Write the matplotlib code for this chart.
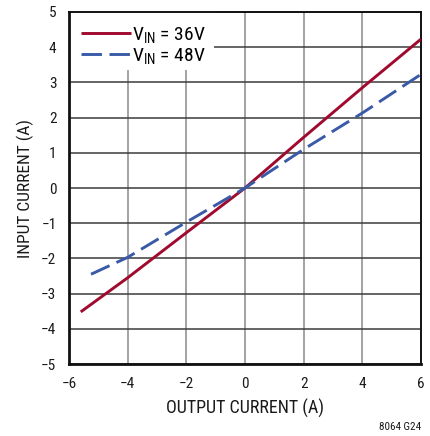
import matplotlib
matplotlib.use("Agg")
import matplotlib.pyplot as plt
from matplotlib.patches import Rectangle

# Input vs. output current at two input voltages
out_36 = [-5.6, -4, -2, 0, 2, 4, 6]
in_36 = [-3.52, -2.55, -1.27, 0, 1.44, 2.85, 4.23]
out_48 = [-5.25, -4, -2, 0, 2, 4, 6]
in_48 = [-2.45, -1.97, -0.97, 0, 1.10, 2.13, 3.23]

x_ticks = [-6, -4, -2, 0, 2, 4, 6]
y_ticks = [-5, -4, -3, -2, -1, 0, 1, 2, 3, 4, 5]

font = "Roboto Condensed"
plt.rcParams["font.family"] = [font, "DejaVu Sans"]
plt.rcParams["mathtext.fontset"] = "custom"
plt.rcParams["mathtext.rm"] = font
plt.rcParams["mathtext.it"] = font

fig = plt.figure(figsize=(4.31, 4.36), dpi=100)
ax = fig.add_axes([69 / 431, 1 - 364 / 436, 352 / 431, 352 / 436])

ax.set_xlim(-6, 6)
ax.set_ylim(-5, 5)
ax.set_xticks(x_ticks)
ax.set_yticks(y_ticks)
ax.set_xticklabels([f"{t}" if t >= 0 else f"\u2212{-t}" for t in x_ticks])
ax.set_yticklabels([f"{t}" if t >= 0 else f"\u2212{-t}" for t in y_ticks])
ax.tick_params(length=0, labelsize=11, pad=9, colors="#1a1a1a")

ax.set_axisbelow(True)
ax.xaxis.grid(True, color="#8a8a8a", linewidth=1.1)
ax.yaxis.grid(True, color="#3c3c3c", linewidth=1.1)
for side in ["left", "bottom"]:
    ax.spines[side].set_linewidth(2.0)
for side in ["top", "right"]:
    ax.spines[side].set_linewidth(1.4)
for s in ax.spines.values():
    s.set_color("#111111")

ax.plot(out_36, in_36, color="#A00A2E", linewidth=2.1, solid_capstyle="butt",
        label=r"V$_{\mathrm{IN}}$ = 36V", zorder=3)
ax.plot(out_48, in_48, color="#3A5AA8", linewidth=2.1, dashes=(7, 2.6),
        label=r"V$_{\mathrm{IN}}$ = 48V", zorder=3)

# white area behind the legend hides the grid there
ax.add_patch(Rectangle((0, (364 - 70) / 352), (214 - 69) / 352, 1 - (364 - 70) / 352,
                       transform=ax.transAxes, facecolor="white", edgecolor="none",
                       zorder=1))
ax.legend(loc="upper left", bbox_to_anchor=(0.0, 0.996), frameon=False,
          fontsize=14, handlelength=2.6, handletextpad=0.05, labelspacing=0.05,
          borderaxespad=0.2)

ax.set_xlabel("OUTPUT CURRENT (A)", fontsize=13, labelpad=6, color="#1a1a1a")
ax.set_ylabel("INPUT CURRENT (A)", fontsize=12.5, labelpad=5, color="#1a1a1a")

fig.text(421 / 431, 1 - 427 / 436, "8064 G24", fontsize=8, ha="right", va="center",
         color="#1a1a1a")

fig.savefig("out.png", dpi=100)
